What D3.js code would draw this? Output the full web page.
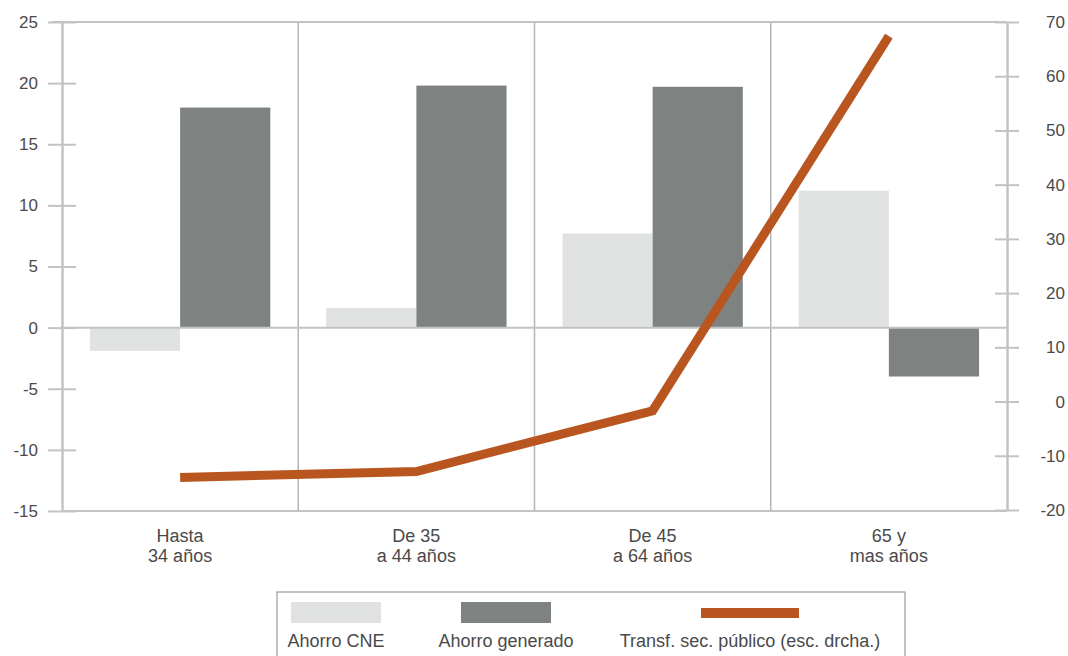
<!DOCTYPE html>
<html>
<head>
<meta charset="utf-8">
<script src="https://cdn.jsdelivr.net/npm/d3@7/dist/d3.min.js"></script>
<style>
  html, body { margin: 0; padding: 0; background: #fff; }
  svg { display: block; }
  text { font-family: "Liberation Sans", Arial, sans-serif; fill: #4a4a4a; }
</style>
</head>
<body>
<svg id="chart" width="1068" height="656"></svg>
<script>
// Age groups (two-line labels)
const categories = ["Hasta 34 años", "De 35 a 44 años", "De 45 a 64 años", "65 y mas años"];
const categoryLines = [["Hasta", "34 años"], ["De 35", "a 44 años"], ["De 45", "a 64 años"], ["65 y", "mas años"]];

// Left-axis series (bars)
const ahorroCNE = [-1.9, 1.6, 7.7, 11.2];
const ahorroGenerado = [18.0, 19.8, 19.7, -4.0];

// Right-axis series (line)
const transfSecPublico = [-14.0, -12.9, -1.7, 67.4];

// Axis ticks
const leftTicks = [-15, -10, -5, 0, 5, 10, 15, 20, 25];
const rightTicks = [-20, -10, 0, 10, 20, 30, 40, 50, 60, 70];

const seriesNames = ["Ahorro CNE", "Ahorro generado"];
const legendLabels = ["Ahorro CNE", "Ahorro generado", "Transf. sec. público (esc. drcha.)"];

const colors = { cne: "#e0e2e1", gen: "#7e8381", line: "#b9561f", frame: "#c2c4c3", grid: "#b3b5b4" };

const svg = d3.select("#chart");
const plot = { left: 62, right: 1007, top: 22, bottom: 511 };

const x = d3.scaleBand().domain(categories).range([plot.left, plot.right]).padding(0);
const xs = d3.scaleBand().domain(seriesNames).range([0, x.bandwidth()]).paddingInner(0).paddingOuter(0.31);
const yL = d3.scaleLinear().domain([-15, 25]).range([plot.bottom, plot.top]);
const yR = d3.scaleLinear().domain([-20, 70]).range([plot.bottom - 1, plot.top]);

// Plain hyphen for negative tick labels
const tickFmt = d => String(d);

// Vertical separators between age groups
svg.append("g").selectAll("line")
  .data(categories.slice(1))
  .join("line")
  .attr("x1", d => x(d)).attr("x2", d => x(d))
  .attr("y1", plot.top).attr("y2", plot.bottom)
  .attr("stroke", colors.grid).attr("stroke-width", 1.5);

// Bars
const groups = svg.append("g").selectAll("g")
  .data(categories.map((c, i) => ({ c, vals: [ahorroCNE[i], ahorroGenerado[i]] })))
  .join("g")
  .attr("transform", d => `translate(${x(d.c)},0)`);

groups.selectAll("rect")
  .data(d => d.vals.map((v, j) => ({ name: seriesNames[j], v })))
  .join("rect")
  .attr("x", d => xs(d.name))
  .attr("width", xs.bandwidth())
  .attr("y", d => Math.min(yL(d.v), yL(0)))
  .attr("height", d => Math.abs(yL(d.v) - yL(0)))
  .attr("fill", d => d.name === seriesNames[0] ? colors.cne : colors.gen);

// Zero line
svg.append("line")
  .attr("x1", plot.left).attr("x2", plot.right)
  .attr("y1", yL(0)).attr("y2", yL(0))
  .attr("stroke", colors.frame).attr("stroke-width", 2);

// Frame: top and bottom edges
svg.append("line")
  .attr("x1", plot.left - 10).attr("x2", plot.right)
  .attr("y1", plot.top).attr("y2", plot.top)
  .attr("stroke", colors.frame).attr("stroke-width", 2);
svg.append("line")
  .attr("x1", plot.left).attr("x2", plot.right)
  .attr("y1", plot.bottom).attr("y2", plot.bottom)
  .attr("stroke", colors.frame).attr("stroke-width", 2);

// Left axis
const gL = svg.append("g")
  .attr("transform", `translate(${plot.left},0)`)
  .call(d3.axisLeft(yL).tickValues(leftTicks).tickSize(0).tickFormat(tickFmt));
gL.select(".domain").attr("stroke", colors.frame).attr("stroke-width", 2.5);
gL.selectAll(".tick line").attr("x1", -14).attr("x2", 14)
  .attr("stroke", colors.frame).attr("stroke-width", 2);
gL.selectAll(".tick text")
  .attr("x", -24).attr("text-anchor", "end")
  .style("font-size", "17px").style("fill", "#4a4a4a");

// Right axis
const gR = svg.append("g")
  .attr("transform", `translate(${plot.right},0)`)
  .call(d3.axisRight(yR).tickValues(rightTicks).tickSize(0).tickFormat(tickFmt));
gR.select(".domain").attr("stroke", colors.frame).attr("stroke-width", 2.5);
gR.selectAll(".tick line").attr("x1", -12).attr("x2", 12)
  .attr("stroke", colors.frame).attr("stroke-width", 2);
gR.selectAll(".tick text")
  .attr("x", 58).attr("text-anchor", "end")
  .style("font-size", "17px").style("fill", "#4a4a4a");
gL.attr("font-family", null); gR.attr("font-family", null);

// Category labels
const catLabels = svg.append("g").selectAll("text")
  .data(categories)
  .join("text")
  .attr("x", d => x(d) + x.bandwidth() / 2)
  .attr("y", 542)
  .attr("text-anchor", "middle")
  .style("font-size", "18px");
catLabels.each(function(d, i) {
  const t = d3.select(this);
  categoryLines[i].forEach((ln, k) => {
    t.append("tspan").attr("x", x(d) + x.bandwidth() / 2).attr("dy", k === 0 ? 0 : 20).text(ln);
  });
});

// Line series (right scale)
const line = d3.line()
  .x((d, i) => x(categories[i]) + x.bandwidth() / 2)
  .y(d => yR(d));
svg.append("path")
  .datum(transfSecPublico)
  .attr("d", line)
  .attr("fill", "none")
  .attr("stroke", colors.line)
  .attr("stroke-width", 9)
  .attr("stroke-linejoin", "miter");

// Legend
const legend = svg.append("g");
legend.append("rect")
  .attr("x", 277).attr("y", 592).attr("width", 628).attr("height", 80)
  .attr("fill", "#fff").attr("stroke", "#9a9a9a").attr("stroke-width", 1.2);
const legendItems = [
  { label: legendLabels[0], type: "rect", color: colors.cne, cx: 336 },
  { label: legendLabels[1], type: "rect", color: colors.gen, cx: 506 },
  { label: legendLabels[2], type: "line", color: colors.line, cx: 750 }
];
legendItems.forEach(it => {
  if (it.type === "rect") {
    legend.append("rect")
      .attr("x", it.cx - 45).attr("y", 602).attr("width", 90).attr("height", 21)
      .attr("fill", it.color);
  } else {
    legend.append("rect")
      .attr("x", it.cx - 49).attr("y", 608).attr("width", 98).attr("height", 10)
      .attr("fill", it.color);
  }
  legend.append("text")
    .attr("x", it.cx).attr("y", 647)
    .attr("text-anchor", "middle")
    .style("font-size", "18px")
    .text(it.label);
});
</script>
</body>
</html>
